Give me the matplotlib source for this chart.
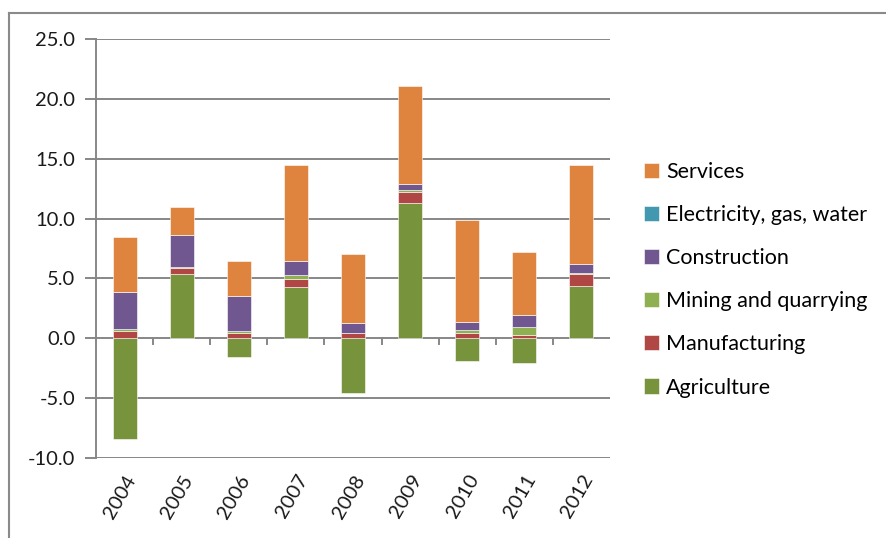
import numpy as np
import matplotlib
matplotlib.use("Agg")
import matplotlib.pyplot as plt
from matplotlib.lines import Line2D

plt.rcParams['font.family'] = ['Lato', 'DejaVu Sans']

years = ['2004', '2005', '2006', '2007', '2008', '2009', '2010', '2011', '2012']
agriculture   = [-8.4, 5.35, -1.6, 4.25, -4.6, 11.3, -1.9, -2.1, 4.4]
manufacturing = [0.65, 0.5, 0.45, 0.7, 0.4, 0.95, 0.42, 0.3, 1.0]
mining        = [0.15, 0.1, 0.15, 0.35, 0.02, 0.1, 0.3, 0.63, 0.05]
construction  = [3.1, 2.7, 2.95, 1.15, 0.83, 0.55, 0.6, 1.03, 0.75]
electricity   = [0.0, 0.0, 0.0, 0.0, 0.0, 0.0, 0.0, 0.0, 0.0]
services      = [4.55, 2.3, 2.9, 8.05, 5.8, 8.15, 8.55, 5.23, 8.3]

series = [
    ('Agriculture', agriculture, '#77933C'),
    ('Manufacturing', manufacturing, '#B04744'),
    ('Mining and quarrying', mining, '#8FB050'),
    ('Construction', construction, '#71578F'),
    ('Electricity, gas, water', electricity, '#4198AF'),
    ('Services', services, '#DE843E'),
]

W, H = 887, 538
fig = plt.figure(figsize=(W / 100, H / 100), dpi=100)
ax = fig.add_axes([96 / W, (H - 458) / H, 514 / W, 419 / H])

x = np.arange(len(years))
pos = np.zeros(len(years))
neg = np.zeros(len(years))
for name, vals, col in series:
    v = np.array(vals, dtype=float)
    bottom = np.where(v >= 0, pos, neg)
    ax.bar(x, v, width=0.42, bottom=bottom, color=col, label=name,
           edgecolor='white', linewidth=0.4, zorder=3)
    pos = pos + np.where(v >= 0, v, 0)
    neg = neg + np.where(v < 0, v, 0)

grid_col = '#878787'
ax.set_ylim(-10, 25)
ax.set_xlim(-0.5, len(years) - 0.5)
yt = np.arange(-10, 26, 5)
ax.set_yticks(yt)
ax.set_yticklabels([f'{t:.1f}' for t in yt], fontsize=14.5, color='#1a1a1a')
for t in yt:
    ax.axhline(t, color=grid_col, linewidth=1.4, zorder=1)
ax.set_xticks(x)
ax.set_xticklabels(years, rotation=60, ha='right', va='top', fontsize=14.5,
                   rotation_mode='anchor', color='#1a1a1a')
ax.tick_params(axis='x', length=0, pad=10)
ax.tick_params(axis='y', length=8, width=1.4, color=grid_col, pad=7)
for s in ['top', 'right', 'bottom']:
    ax.spines[s].set_visible(False)
ax.spines['left'].set_color(grid_col)
ax.spines['left'].set_linewidth(1.4)

# category boundary ticks on zero line
for b in np.arange(0.5, len(years) - 0.5, 1.0):
    ax.plot([b, b], [0, -0.5], color=grid_col, linewidth=1.4, zorder=2,
            clip_on=False)

handles, labels = ax.get_legend_handles_labels()
leg = ax.legend(handles[::-1], labels[::-1], loc='center left',
                bbox_to_anchor=(1.05, 0.425), frameon=False, fontsize=15.5,
                handlelength=0.7, handleheight=0.7, handletextpad=0.3,
                labelspacing=1.07, borderaxespad=0)

# outer chart border (top and left)
fig.add_artist(Line2D([9 / W, 1], [1 - 13 / H, 1 - 13 / H],
                      transform=fig.transFigure, color='#8a8a8a', linewidth=1.5))
fig.add_artist(Line2D([9 / W, 9 / W], [0, 1 - 13 / H],
                      transform=fig.transFigure, color='#8a8a8a', linewidth=1.5))

fig.savefig('out.png', dpi=100)
